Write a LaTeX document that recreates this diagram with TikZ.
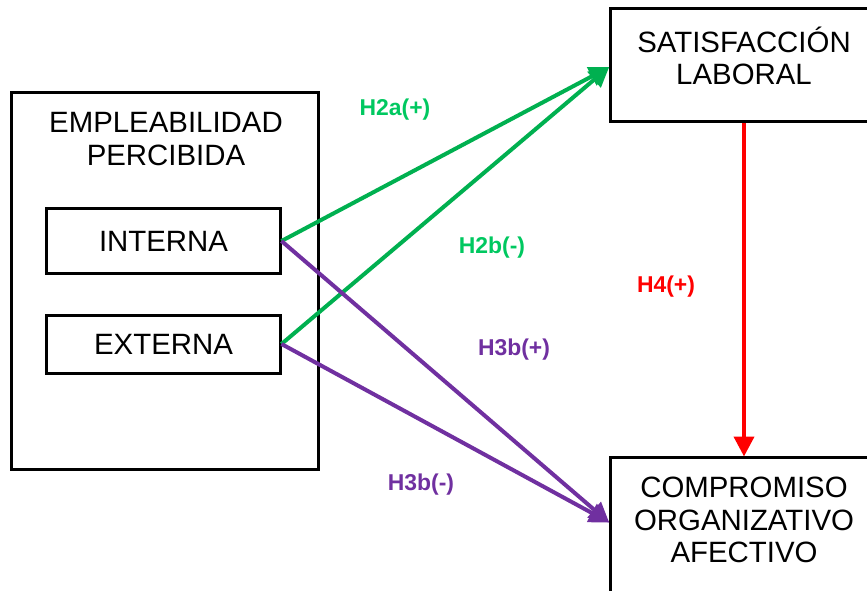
\documentclass[tikz,border=0pt]{standalone}
\usepackage{fontspec}
\setmainfont{Liberation Sans}
\usetikzlibrary{arrows.meta}
\definecolor{hgreen}{HTML}{00B050}
\definecolor{hgreentext}{HTML}{00C860}
\definecolor{hpurple}{HTML}{7030A0}
\definecolor{hred}{HTML}{FF0000}
\tikzset{
  box/.style={draw=black, line width=3bp, inner sep=0pt},
  boxtext/.style={align=center, font=\fontsize{29.5}{32.5}\selectfont, inner sep=0pt},
  hyp/.style={font=\fontsize{23}{26}\selectfont\bfseries, inner sep=0pt},
  link/.style={line width=4bp, -{Triangle[length=20bp,width=20bp]}, shorten >=-1bp},
}
\begin{document}
\begin{tikzpicture}[x=1bp, y=-1bp]
  \useasboundingbox (0,0) rectangle (867,591);
  \clip (0,0) rectangle (867,591);

  % perceived employability block
  \node[box, minimum width=306bp, minimum height=376bp] (emp) at (165,281) {};
  \node[boxtext] (emptext) at (166,139) {EMPLEABILIDAD\\PERCIBIDA};
  \node[box, minimum width=233bp, minimum height=64bp, boxtext] (int) at (163.5,241) {INTERNA};
  \node[box, minimum width=233bp, minimum height=58bp, boxtext] (ext) at (163.5,344) {EXTERNA};

  % outcome blocks (running past the right edge)
  \node[box, minimum width=268bp, minimum height=113bp] (sat) at (744,65.5) {};
  \node[boxtext] (sattext) at (744,56) {SATISFACCIÓN\\LABORAL};
  \node[box, minimum width=268bp, minimum height=140bp] (comp) at (744,527) {};
  \node[boxtext] (comptext) at (744,520) {COMPROMISO\\ORGANIZATIVO\\AFECTIVO};

  % hypothesised links
  \draw[link, hgreen] (int.east) -- ([yshift=-2bp]sat.west);
  \draw[link, hgreen] (ext.east) -- ([yshift=-2bp]sat.west);
  \draw[link, hpurple] (int.east) -- ([yshift=5bp]comp.west);
  \draw[link, hpurple] (ext.east) -- ([yshift=5bp]comp.west);
  \draw[link, hred] (sat.south) -- (comp.north);

  % hypothesis labels
  \node[hyp, text=hgreentext] (h2a) at (395,110) {H2a(+)};
  \node[hyp, text=hgreentext] (h2b) at (492,248) {H2b(-)};
  \node[hyp, text=hred] (h4) at (666,287) {H4(+)};
  \node[hyp, text=hpurple] (h3bp) at (514,350) {H3b(+)};
  \node[hyp, text=hpurple] (h3bm) at (421,485) {H3b(-)};
\end{tikzpicture}
\end{document}
